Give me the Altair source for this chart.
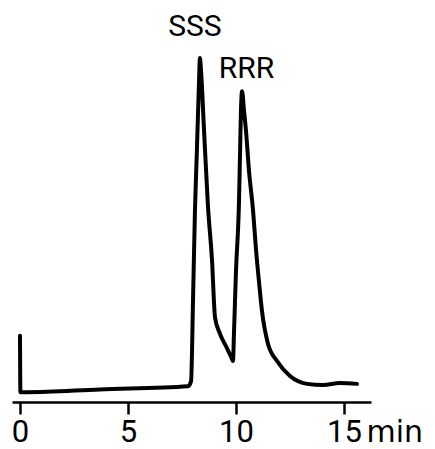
import altair as alt
import pandas as pd

# Retention time (min) and detector response (arbitrary units)
time_min = [0.00, 0.02, 0.30, 3.70, 7.78, 7.92, 8.01, 8.10, 8.19, 8.29, 8.33,
            8.38, 8.52, 8.70, 8.89, 9.03, 9.26, 9.58, 9.77, 9.86,
            9.91, 10.00, 10.14, 10.19, 10.23, 10.28,
            10.37, 10.46, 10.60, 10.79, 10.93, 11.06, 11.20, 11.48, 11.90,
            12.50, 13.29, 14.03, 14.81, 15.60]
response = [16.8, 2.5, 2.5, 3.2, 4.0, 5.3, 25.7, 48.6, 63.9, 81.7, 87.3,
            84.2, 69.0, 49.9, 35.9, 21.4, 17.3, 13.7, 11.5, 10.4,
            18.1, 33.3, 51.1, 63.9, 74.0, 78.9,
            74.0, 69.0, 58.8, 48.6, 38.4, 30.8, 23.2, 14.8, 10.4,
            6.6, 4.6, 4.3, 4.8, 4.6]

peak_labels = ["SSS", "RRR"]
peak_label_t = [8.10, 10.49]
peak_label_v = [92.9, 82.2]

tick_values = [0, 5, 10, 15]
x_domain = [-0.37, 16.25]
y_domain = [0, 100]

FONT = "Roboto"

trace = pd.DataFrame({"t": time_min, "v": response})
labels = pd.DataFrame({"label": peak_labels, "t": peak_label_t, "v": peak_label_v})

x_scale = alt.Scale(domain=x_domain, nice=False, zero=False)
y_scale = alt.Scale(domain=y_domain, nice=False)

line = alt.Chart(trace).mark_line(
    color="black", strokeWidth=4, interpolate="monotone", strokeJoin="round", strokeCap="round"
).encode(
    x=alt.X("t:Q", scale=x_scale, axis=alt.Axis(
        values=tick_values, title="min", grid=False,
        domainColor="black", domainWidth=2.5,
        tickColor="black", tickWidth=2.5, tickSize=12,
        labelFont=FONT, labelFontSize=31, labelFontWeight="normal", labelColor="black",
        labelBaseline="alphabetic", labelPadding=27, labelFlush=False,
        titleFont="DejaVu Sans", titleFontSize=30, titleFontWeight="normal", titleColor="black",
        titleAlign="left", titleBaseline="alphabetic", titleX=354, titleY=39,
    )),
    y=alt.Y("v:Q", scale=y_scale, axis=None),
)

text = alt.Chart(labels).mark_text(
    font=FONT, fontSize=30, fontWeight="normal", color="black", baseline="alphabetic", align="center"
).encode(
    x=alt.X("t:Q", scale=x_scale),
    y=alt.Y("v:Q", scale=y_scale),
    text="label:N",
)

chart = alt.layer(line, text).properties(
    width=359, height=394,
    autosize=alt.AutoSizeParams(type="none"),
    padding={"left": 4, "top": 0, "right": 56, "bottom": 47},
).configure_view(stroke=None)

chart.save("out.html", embed_options={"renderer": "svg", "actions": False})
